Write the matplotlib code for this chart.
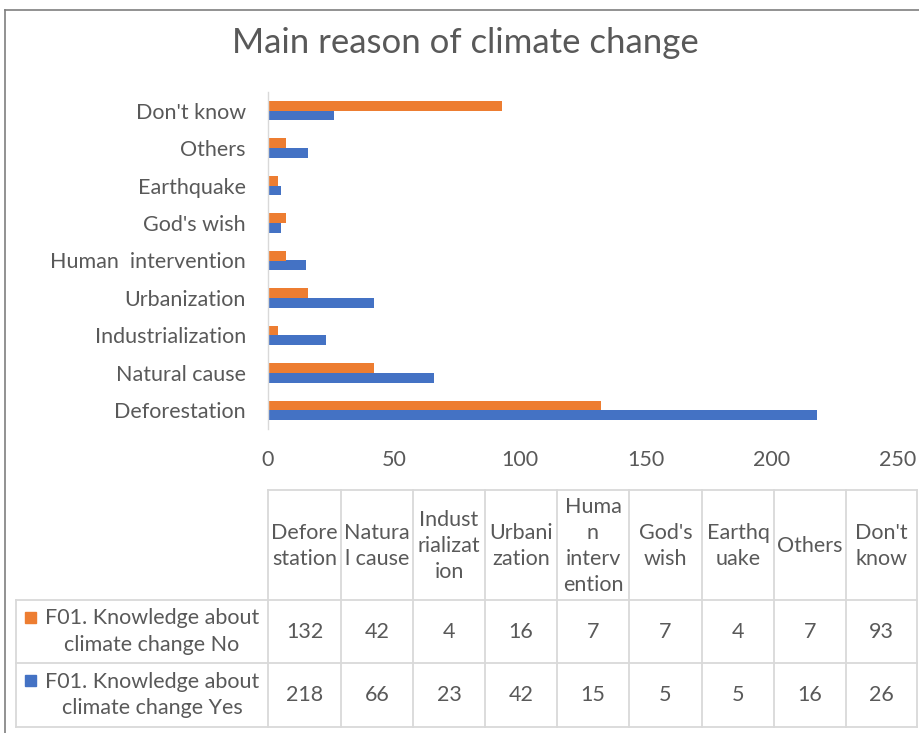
import matplotlib
matplotlib.use("Agg")
import matplotlib.pyplot as plt
from matplotlib.patches import Rectangle
from matplotlib.lines import Line2D
import numpy as np

plt.rcParams['font.family'] = ['Lato', 'DejaVu Sans']

categories = ["Deforestation", "Natural cause", "Industrialization", "Urbanization",
              "Human  intervention", "God's wish", "Earthquake", "Others", "Don't know"]
header_labels = ["Defore\nstation", "Natura\nl cause", "Indust\nrializat\nion", "Urbani\nzation",
                 "Huma\nn\ninterv\nention", "God's\nwish", "Earthq\nuake", "Others", "Don't\nknow"]
series_names = ["F01. Knowledge about\nclimate change No", "F01. Knowledge about\nclimate change Yes"]
values_no = [132, 42, 4, 16, 7, 7, 4, 7, 93]
values_yes = [218, 66, 23, 42, 15, 5, 5, 16, 26]
xticks = [0, 50, 100, 150, 200, 250]

ORANGE = "#ED7D31"
BLUE = "#4472C4"
TXT = "#595959"
GRID = "#D9D9D9"
FS = 15.5

W, H = 920, 733
fig = plt.figure(figsize=(W / 100, H / 100), dpi=100)

def fx(px):
    return px / W

def fy(py):
    return 1 - py / H

# bar axes
ax_l, ax_r, ax_t, ax_b = 268, 898, 92, 429
ax = fig.add_axes([fx(ax_l), fy(ax_b), fx(ax_r - ax_l), (ax_b - ax_t) / H])
y = np.arange(len(categories))
h = 0.26
ax.barh(y - h / 2, values_yes, height=h, color=BLUE)
ax.barh(y + h / 2, values_no, height=h, color=ORANGE)
ax.set_xlim(0, 250)
ax.set_ylim(-0.5, len(categories) - 0.5)
ax.set_yticks(y)
ax.set_yticklabels(categories, fontsize=FS, color=TXT)
ax.set_xticks(xticks)
ax.set_xticklabels([str(t) for t in xticks], fontsize=FS, color=TXT)
ax.tick_params(axis='both', length=0)
ax.tick_params(axis='x', pad=15)
ax.tick_params(axis='y', pad=16)
for s in ['top', 'right', 'bottom']:
    ax.spines[s].set_visible(False)
ax.spines['left'].set_color(GRID)
ax.spines['left'].set_linewidth(1.0)

# title
fig.text(fx(465), fy(43), "Main reason of climate change", ha='center', va='center',
         fontsize=25, color=TXT)

# overlay axes for table/frame in pixel coords
ov = fig.add_axes([0, 0, 1, 1])
ov.set_xlim(0, W)
ov.set_ylim(H, 0)
ov.axis('off')

# outer frame
ov.add_line(Line2D([5, W], [10, 10], color="#7F7F7F", lw=1.2))
ov.add_line(Line2D([5, 5], [10, H], color="#7F7F7F", lw=1.2))

col_x = [268, 341, 413, 485, 557, 629, 702, 774, 846, 917]
label_left = 16
row_y = [490, 600, 663, 727]
lw = 1.3
ov.add_line(Line2D([col_x[0], col_x[-1]], [row_y[0], row_y[0]], color=GRID, lw=lw))
for yy in row_y[1:]:
    ov.add_line(Line2D([label_left, col_x[-1]], [yy, yy], color=GRID, lw=lw))
for xx in col_x:
    ov.add_line(Line2D([xx, xx], [row_y[0], row_y[-1]], color=GRID, lw=lw))
ov.add_line(Line2D([label_left, label_left], [row_y[1], row_y[-1]], color=GRID, lw=lw))

for i, lab in enumerate(header_labels):
    cx = (col_x[i] + col_x[i + 1]) / 2
    ov.text(cx, (row_y[0] + row_y[1]) / 2 + 1, lab, ha='center', va='center',
            fontsize=FS, color=TXT, linespacing=1.38)

rows = [(series_names[0], values_no, ORANGE), (series_names[1], values_yes, BLUE)]
for r, (name, vals, col) in enumerate(rows):
    ym = (row_y[r + 1] + row_y[r + 2]) / 2
    ov.add_patch(Rectangle((25, ym - 20), 11, 11, color=col))
    ov.text(152, ym, name, ha='center', va='center', fontsize=FS, color=TXT,
            linespacing=1.42)
    for i, v in enumerate(vals):
        cx = (col_x[i] + col_x[i + 1]) / 2
        ov.text(cx, ym, str(v), ha='center', va='center', fontsize=FS, color=TXT)

fig.savefig("out.png", dpi=100)
